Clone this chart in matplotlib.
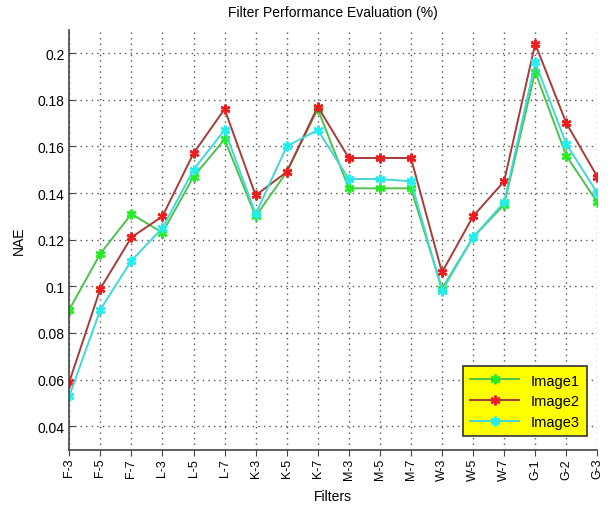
import numpy as np
import matplotlib.pyplot as plt
from matplotlib.ticker import FuncFormatter

plt.rcParams['font.family'] = ['Liberation Sans', 'DejaVu Sans']

filters = ['F-3', 'F-5', 'F-7', 'L-3', 'L-5', 'L-7', 'K-3', 'K-5', 'K-7',
           'M-3', 'M-5', 'M-7', 'W-3', 'W-5', 'W-7', 'G-1', 'G-2', 'G-3']

image1 = [0.090, 0.114, 0.131, 0.123, 0.147, 0.163, 0.130, 0.149, 0.176,
          0.142, 0.142, 0.142, 0.099, 0.121, 0.135, 0.192, 0.156, 0.136]
image2 = [0.059, 0.099, 0.121, 0.130, 0.157, 0.176, 0.139, 0.149, 0.177,
          0.155, 0.155, 0.155, 0.106, 0.130, 0.145, 0.204, 0.170, 0.147]
image3 = [0.053, 0.090, 0.111, 0.125, 0.150, 0.167, 0.131, 0.160, 0.167,
          0.146, 0.146, 0.145, 0.098, 0.121, 0.136, 0.196, 0.161, 0.140]

series = [
    ('Image1', image1, '#4cc24c', '#22ee22'),
    ('Image2', image2, '#a83a3a', '#ee1c1c'),
    ('Image3', image3, '#40d8d8', '#22eeee'),
]

fig = plt.figure(figsize=(6.11, 5.06), dpi=100)
ax = fig.add_axes([0.1134, 0.1095, 0.8642, 0.8298])

x = np.arange(1, len(filters) + 1)
for name, vals, lc, mc in series:
    ax.plot(x, vals, color=lc, lw=1.4, marker=(6, 2, 0), ms=7,
            mec=mc, mfc=mc, mew=1.7, label=name)

ax.set_xlim(1, 18)
ax.set_ylim(0.03, 0.21)
ax.set_xticks(x)
ax.set_xticklabels(filters, rotation=90, fontsize=9)
ax.set_yticks(np.arange(0.04, 0.201, 0.02))
ax.yaxis.set_major_formatter(FuncFormatter(lambda v, p: '%g' % round(v, 2)))
ax.tick_params(axis='y', direction='in', labelsize=10, length=4, color='#444444')
ax.tick_params(axis='x', direction='out', length=4, pad=2, color='#444444')

ax.grid(True, linestyle=(0, (1, 3)), color='#555555', lw=1.0)
for side in ['top', 'right']:
    ax.spines[side].set_visible(False)
for side in ['left', 'bottom']:
    ax.spines[side].set_color('#444444')
    ax.spines[side].set_linewidth(1.2)

ax.set_title('Filter Performance Evaluation (%)', fontsize=10, pad=10)
ax.set_xlabel('Filters', fontsize=10, labelpad=6)
ax.set_ylabel('NAE', fontsize=10, labelpad=8)

leg = ax.legend(loc='lower right', bbox_to_anchor=(0.995, 0.015), fontsize=10.5,
                fancybox=False, framealpha=1, facecolor='#ffff00',
                edgecolor='#333333', borderpad=0.5, handlelength=3.4,
                labelspacing=0.45)
leg.get_frame().set_linewidth(1.2)

fig.savefig('out.png', dpi=100)
